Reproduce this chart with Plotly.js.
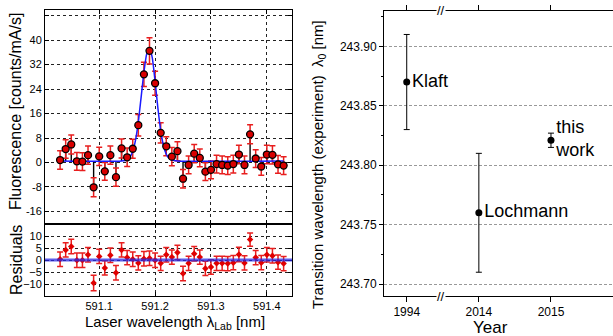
<!DOCTYPE html>
<html>
<head>
<meta charset="utf-8">
<script src="https://cdn.plot.ly/plotly-3.0.1.min.js"></script>
<style>html,body{margin:0;padding:0;background:#fff;}#plot{width:613px;height:336px;}</style>
</head>
<body>
<div id="plot"></div>
<script>
// ---- Left panel: fluorescence scan ----
const wavelength = [591.03,591.04,591.05,591.06,591.07,591.08,591.09,591.10,591.11,591.12,
  591.13,591.14,591.15,591.16,591.17,591.18,591.19,591.20,591.21,591.22,
  591.23,591.24,591.25,591.26,591.27,591.28,591.29,591.30,591.31,591.32,
  591.33,591.34,591.35,591.36,591.37,591.38,591.39,591.40,591.41,591.42,591.43];
const fluorescence = [0.8,4.4,5.9,0.4,0.3,2.4,-8.1,2.0,-2.9,2.4,
  -4.8,4.6,1.7,4.5,12.2,28.8,36.5,25.9,9.7,5.3,
  1.9,3.7,-5.3,-0.8,2.9,1.5,-3.0,-2.4,-0.5,-0.8,
  -1.0,-0.5,2.6,-0.8,9.2,1.3,-1.3,2.6,2.5,-0.6,-1.0];
const fluorescenceErr = [3.0,3.0,3.1,2.9,2.9,3.0,3.1,3.0,2.9,3.0,
  3.0,3.1,3.0,3.1,3.5,4.0,4.3,3.9,3.3,3.1,
  3.0,3.1,3.0,2.9,3.0,2.9,2.9,2.9,2.9,2.9,
  2.9,2.9,3.0,2.9,3.1,2.9,2.9,3.0,3.0,2.9,2.9];
const fitAtData = [0.5,0.5,0.5,0.5,0.5,0.5,0.5,0.5,0.5,0.5,
  0.5,0.5,0.9,3.6,13.3,29.5,37.5,26.5,10.5,2.7,
  0.8,0.5,0.5,0.5,0.5,0.5,0.5,0.5,0.5,0.5,
  0.5,0.5,0.5,0.5,0.5,0.5,0.5,0.5,0.5,0.5,0.5];
const fitWavelength = [591.03,591.14,591.15,591.155,591.16,591.165,591.17,591.175,591.18,591.185,
  591.19,591.195,591.20,591.205,591.21,591.215,591.22,591.225,591.23,591.24,591.43];
const fitValue = [0.5,0.5,0.9,1.8,3.6,7.3,13.3,21.3,29.5,35.5,
  37.5,34.2,26.5,17.8,10.5,5.5,2.7,1.3,0.8,0.5,0.5];
const residuals = [0.3,4.2,5.6,-0.1,-0.1,2.2,-9.6,1.5,-3.3,2.0,
  -5.3,4.2,1.0,0.3,-1.2,0.5,0.7,-0.1,-1.4,2.2,
  1.2,3.1,-5.6,-1.4,2.6,1.2,-3.5,-2.9,-1.4,-1.4,
  -1.5,-1.1,2.3,-1.2,8.5,1.0,-1.1,2.2,1.8,-0.9,-1.5];
const residualsErr = [3.0,3.0,3.0,3.0,3.0,3.0,3.2,3.0,3.0,3.0,
  3.0,3.0,3.0,3.0,3.0,3.0,3.0,3.0,3.0,3.0,
  3.0,3.0,3.0,3.0,3.0,3.0,3.0,3.0,3.0,3.0,
  3.0,3.0,3.0,3.0,2.8,3.0,3.0,3.0,3.0,3.0,3.0];
const fluoTicks = [-16,-8,0,8,16,24,32,40,48];
const fluoTickText = ['-16','-8','0','8','16','24','32','40',' '];
const wlTicks = [591.1,591.2,591.3,591.4];
const residTicks = [-10,-5,0,5,10];

// ---- Right panel: comparison of transition wavelengths ----
const years = ['1994','2014','2015'];
const lambda0 = [243.87,243.76,243.821];
const lambda0Err = [0.04,0.05,0.006];
const sources = ['Klaft','Lochmann','this<br>work'];

// sticks from fit to data
const stickX = [], stickY = [];
wavelength.forEach((w,i)=>{ stickX.push(w,w,null); stickY.push(fitAtData[i],fluorescence[i],null); });

const FONT = 'Liberation Sans, Arial, sans-serif';
const red = 'rgb(232,30,30)';

const traces = [
  {x: stickX, y: stickY, mode:'lines', line:{color:'#000',width:1.4}, xaxis:'x', yaxis:'y', hoverinfo:'skip', showlegend:false},
  {x: wavelength, y: fluorescence, mode:'markers', xaxis:'x', yaxis:'y', showlegend:false,
   error_y:{type:'data', array: fluorescenceErr, visible:true, color:red, thickness:1.5, width:3},
   marker:{size:0.1, color:'rgba(0,0,0,0)'}},
  {x: fitWavelength, y: fitValue, mode:'lines', line:{color:'#1a1aff',width:1.5, shape:'spline', smoothing:0.6}, xaxis:'x', yaxis:'y', showlegend:false},
  {x: wavelength, y: fluorescence, mode:'markers', xaxis:'x', yaxis:'y', showlegend:false,
   marker:{size:7, color:'#d80000', line:{color:'#000',width:1.3}}},
  {x: wavelength, y: residuals, mode:'markers', xaxis:'x2', yaxis:'y2', showlegend:false,
   error_y:{type:'data', array: residualsErr, visible:true, color:red, thickness:1.5, width:3},
   marker:{size:5, symbol:'diamond', color:'#e00000'}},
  {x: years, y: lambda0, mode:'markers+text', text: sources, textposition:'middle right',
   textfont:{family:FONT, size:18, color:'#000'}, xaxis:'x3', yaxis:'y3', showlegend:false,
   error_y:{type:'data', array: lambda0Err, visible:true, color:'#000', thickness:1, width:3},
   marker:{size:7, color:'#000'}}
];

const leftDom = [45/613, 292/613];
const gridDot = {showgrid:true, gridcolor:'#222', gridwidth:1, griddash:'dot'};
const layout = {
  width:613, height:336, margin:{l:0,r:0,t:0,b:0},
  paper_bgcolor:'#fff', plot_bgcolor:'#fff', showlegend:false,
  font:{family:FONT, size:11, color:'#000'},
  xaxis: Object.assign({domain:leftDom, anchor:'y', range:[591.003,591.445], tickvals:wlTicks, showticklabels:false,
    ticks:'inside', ticklen:4, tickcolor:'#000', showline:true, linecolor:'#000', linewidth:1, mirror:'allticks', zeroline:false}, gridDot),
  yaxis: Object.assign({domain:[112.3/336, 326.5/336], anchor:'x', range:[-20,50], tickvals:fluoTicks, ticktext:fluoTickText,
    ticks:'inside', ticklen:4, tickcolor:'#000', showline:true, linecolor:'#000', linewidth:1, mirror:'allticks', zeroline:false,
    tickfont:{size:11}}, gridDot),
  xaxis2: Object.assign({domain:leftDom, anchor:'y2', range:[591.003,591.445], tickvals:wlTicks,
    ticks:'inside', ticklen:4, tickcolor:'#000', showline:true, linecolor:'#000', linewidth:1, mirror:'allticks', zeroline:false,
    tickfont:{size:11}, tickformat:'.1f'}, gridDot),
  yaxis2: Object.assign({domain:[40/336, 112/336], anchor:'x2', range:[-15,15], tickvals:residTicks,
    ticks:'inside', ticklen:4, tickcolor:'#000', showline:true, linecolor:'#000', linewidth:1, mirror:'allticks', zeroline:false,
    tickfont:{size:11}}, gridDot),
  xaxis3: {domain:[384/613, 1], anchor:'y3', type:'category', categoryorder:'array', categoryarray:years,
    range:[-0.315, 2.86], ticks:'outside', ticklen:5, tickcolor:'#000', showline:true, linecolor:'#000', linewidth:1,
    mirror:'ticks', showgrid:false, zeroline:false, tickfont:{size:12}},
  yaxis3: {domain:[40/336, 325.3/336], anchor:'x3', range:[243.69,243.93], dtick:0.05, tick0:243.7, tickformat:'.2f',
    ticks:'outside', ticklen:4, tickcolor:'#000', showline:true, linecolor:'#000', linewidth:1, mirror:false,
    showgrid:true, gridcolor:'#999', gridwidth:1, griddash:'3px,2px', zeroline:false, tickfont:{size:12},
    minor:{dtick:0.025, ticks:'outside', ticklen:2, tickcolor:'#000', showgrid:false}},
  shapes:[
    {type:'line', xref:'x2 domain', x0:0, x1:1, yref:'y2', y0:0, y1:0, line:{color:'rgba(40,40,230,0.75)', width:3}, layer:'above'}
  ],
  annotations:[
    {text:'Fluorescence [counts/mA/s]', xref:'paper', yref:'paper', x:16/613, y:1-112/336, textangle:-90,
      showarrow:false, font:{size:16}, xanchor:'center', yanchor:'middle'},
    {text:'Residuals', xref:'paper', yref:'paper', x:16/613, y:1-260/336, textangle:-90,
      showarrow:false, font:{size:16}, xanchor:'center', yanchor:'middle'},
    {text:'Laser wavelength λ<sub>Lab</sub> [nm]', xref:'paper', yref:'paper', x:175/613, y:1-322/336,
      showarrow:false, font:{size:15}, xanchor:'center', yanchor:'middle'},
    {text:'Transition wavelength (experiment)  λ<sub>0</sub> [nm]', xref:'paper', yref:'paper', x:318/613, y:1-165/336, textangle:-90,
      showarrow:false, font:{size:15}, xanchor:'center', yanchor:'middle'},
    {text:'Year', xref:'paper', yref:'paper', x:490/613, y:1-327/336,
      showarrow:false, font:{size:17}, xanchor:'center', yanchor:'middle'},
    {text:'//', xref:'x3', yref:'y3 domain', x:0.47, y:1, showarrow:false, font:{size:13}, bgcolor:'#fff', borderpad:0, xanchor:'center', yanchor:'middle'},
    {text:'//', xref:'x3', yref:'y3 domain', x:0.47, y:0, showarrow:false, font:{size:13}, bgcolor:'#fff', borderpad:0, xanchor:'center', yanchor:'middle'}
  ]
};

Plotly.newPlot('plot', traces, layout, {staticPlot:true, displayModeBar:false});
</script>
</body>
</html>
